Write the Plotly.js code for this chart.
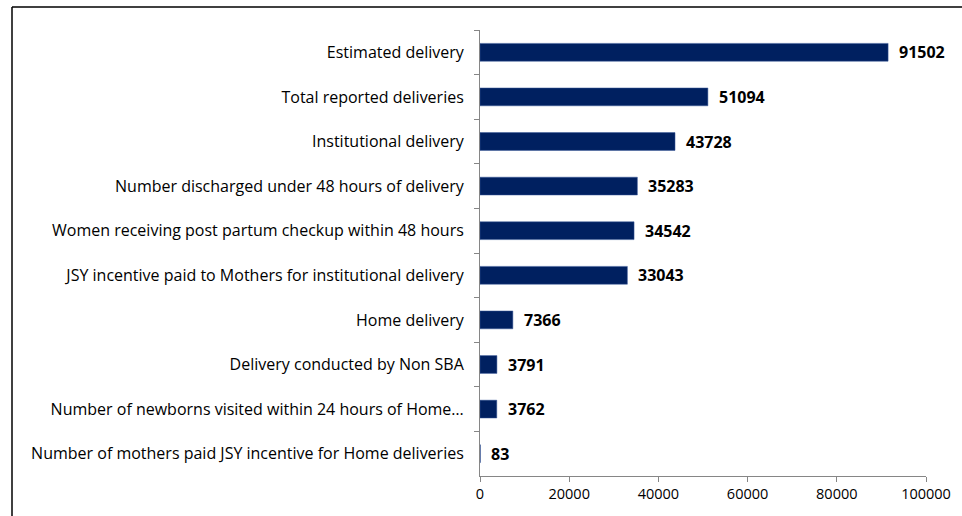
<!DOCTYPE html>
<html>
<head>
<meta charset="utf-8">
<script src="https://cdn.plot.ly/plotly-3.0.1.min.js"></script>
<style>body{margin:0;padding:0;background:#fff}#chart{width:962px;height:516px}</style>
</head>
<body>
<div id="chart"></div>
<script>
const categories = [
  "Estimated delivery",
  "Total reported deliveries",
  "Institutional delivery",
  "Number discharged under 48 hours of delivery",
  "Women receiving post partum checkup within 48 hours",
  "JSY incentive paid to Mothers for institutional delivery",
  "Home delivery",
  "Delivery conducted by Non SBA",
  "Number of newborns visited within 24 hours of Home…",
  "Number of mothers paid JSY incentive for Home deliveries"
];
const values = [91502, 51094, 43728, 35283, 34542, 33043, 7366, 3791, 3762, 83];
const xTicks = [0, 20000, 40000, 60000, 80000, 100000];

const fontFam = "'Open Sans', sans-serif";
const trace = {
  type: 'bar',
  orientation: 'h',
  y: categories,
  x: values,
  marker: {color: '#002060', line: {color: '#3a5a9a', width: 0.5}},
  width: 0.4,
  hoverinfo: 'none'
};
const annotations = categories.map((c, i) => ({
  x: values[i], y: c, xref: 'x', yref: 'y',
  text: '<b>' + values[i] + '</b>', showarrow: false,
  xanchor: 'left', yanchor: 'middle', xshift: 9,
  font: {family: fontFam, size: 16, color: '#000'}
}));
const layout = {
  width: 962, height: 516,
  margin: {l: 480, r: 36, t: 30, b: 40, pad: 0},
  paper_bgcolor: '#fff', plot_bgcolor: '#fff',
  showlegend: false,
  font: {family: fontFam, color: '#000'},
  xaxis: {
    range: [0, 100000], tickvals: xTicks, ticktext: xTicks.map(String),
    showgrid: false, zeroline: false, showline: true, linecolor: '#868686', linewidth: 1,
    ticks: 'outside', ticklen: 5, tickcolor: '#868686',
    tickfont: {family: fontFam, size: 14.5, color: '#000'}
  },
  yaxis: {
    type: 'category', autorange: 'reversed',
    showgrid: false, zeroline: false, showline: true, linecolor: '#868686', linewidth: 1,
    ticks: 'outside', ticklen: 5, tickcolor: '#868686', tickson: 'boundaries',
    ticklabelstandoff: 12,
    tickfont: {family: fontFam, size: 16, color: '#000'}
  },
  annotations: annotations,
  shapes: [
    {type: 'line', xref: 'paper', yref: 'paper', x0: (12 - 480) / 446, x1: (975 - 480) / 446,
     y0: (476 - 7) / 446, y1: (476 - 7) / 446, line: {color: '#000', width: 1.5}},
    {type: 'line', xref: 'paper', yref: 'paper', x0: (12 - 480) / 446, x1: (12 - 480) / 446,
     y0: (476 - 7) / 446, y1: (476 - 530) / 446, line: {color: '#000', width: 1.5}}
  ]
};
Plotly.newPlot('chart', [trace], layout, {displayModeBar: false, staticPlot: true});
</script>
</body>
</html>
